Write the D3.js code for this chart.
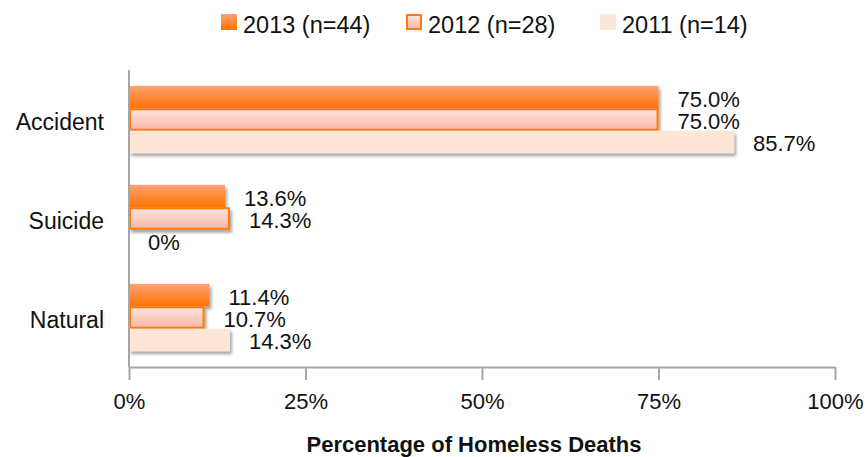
<!DOCTYPE html>
<html>
<head>
<meta charset="utf-8">
<script src="https://cdn.jsdelivr.net/npm/d3@7"></script>
<style>
  html, body { margin: 0; padding: 0; background: #ffffff; }
  svg { display: block; }
  text { font-family: "Liberation Sans", Arial, sans-serif; fill: #111; }
</style>
</head>
<body>
<svg id="chart" width="867" height="457"></svg>
<script>
// Causes of death, top to bottom
const categories = ["Accident", "Suicide", "Natural"];
// Series (year, sample size) in legend order
const seriesKeys = ["2013", "2012", "2011"];
const seriesLabels = ["2013 (n=44)", "2012 (n=28)", "2011 (n=14)"];
// Percentage of deaths per cause for each year
const values2013 = [75.0, 13.6, 11.4];
const values2012 = [75.0, 14.3, 10.7];
const values2011 = [85.7, 0.0, 14.3];
const valueLabels2013 = ["75.0%", "13.6%", "11.4%"];
const valueLabels2012 = ["75.0%", "14.3%", "10.7%"];
const valueLabels2011 = ["85.7%", "0%", "14.3%"];
// Axis ticks
const tickValues = [0, 25, 50, 75, 100];
const tickLabels = ["0%", "25%", "50%", "75%", "100%"];
const axisTitle = "Percentage of Homeless Deaths";

const seriesValues = { "2013": values2013, "2012": values2012, "2011": values2011 };
const seriesText = { "2013": valueLabels2013, "2012": valueLabels2012, "2011": valueLabels2011 };

const svg = d3.select("#chart");
const defs = svg.append("defs");

// Vertical gradients for the bar fills
function vGrad(id, top, bottom) {
  const g = defs.append("linearGradient").attr("id", id)
    .attr("x1", 0).attr("y1", 0).attr("x2", 0).attr("y2", 1);
  g.append("stop").attr("offset", "0%").attr("stop-color", top);
  g.append("stop").attr("offset", "100%").attr("stop-color", bottom);
}
vGrad("g2013", "#fea276", "#ff7300");
vGrad("g2012", "#fde4e0", "#fbb6a3");
vGrad("g2011", "#fde6d6", "#fde6d6");

const shadow = defs.append("filter").attr("id", "shadow")
  .attr("x", "-5%").attr("y", "-20%").attr("width", "115%").attr("height", "160%");
shadow.append("feDropShadow")
  .attr("dx", 2).attr("dy", 3).attr("stdDeviation", 1.6)
  .attr("flood-color", "#000").attr("flood-opacity", 0.35);

const style = {
  "2013": { fill: "url(#g2013)", stroke: "none", sw: 0 },
  "2012": { fill: "url(#g2012)", stroke: "#ff7a0a", sw: 2 },
  "2011": { fill: "url(#g2011)", stroke: "none", sw: 0 }
};

// Scales
const x = d3.scaleLinear().domain([0, 100]).range([129, 835]);
const y = d3.scaleBand().domain(categories).range([70, 367])
  .paddingInner(0.32).paddingOuter(0.16);
const ySub = d3.scaleBand().domain(seriesKeys).range([0, y.bandwidth()]);

// Bars
const groups = svg.append("g").selectAll("g.cat")
  .data(categories).join("g")
  .attr("class", "cat")
  .attr("transform", d => `translate(0,${y(d)})`);

seriesKeys.forEach(k => {
  const s = style[k];
  groups.append("rect")
    .attr("x", x(0) + s.sw / 2)
    .attr("y", (d) => ySub(k) + s.sw / 2)
    .attr("width", (d, i) => Math.max(0, x(seriesValues[k][i]) - x(0) - s.sw))
    .attr("height", ySub.bandwidth() - s.sw)
    .attr("fill", s.fill)
    .attr("stroke", s.stroke)
    .attr("stroke-width", s.sw)
    .attr("filter", (d, i) => seriesValues[k][i] > 0 ? "url(#shadow)" : null);
});

// Value labels
seriesKeys.forEach(k => {
  groups.append("text")
    .attr("x", (d, i) => x(seriesValues[k][i]) + 19)
    .attr("y", ySub(k) + ySub.bandwidth() / 2 + 9.5)
    .attr("font-size", 22)
    .text((d, i) => seriesText[k][i]);
});

// X axis
const xAxis = d3.axisBottom(x)
  .tickValues(tickValues)
  .tickFormat((d, i) => tickLabels[i])
  .tickSize(13)
  .tickSizeOuter(0)
  .tickPadding(12);
const gx = svg.append("g").attr("transform", "translate(0,367)").call(xAxis);
gx.select(".domain").attr("stroke", "#a6a6a6").attr("stroke-width", 2);
gx.selectAll(".tick line").attr("stroke", "#a6a6a6").attr("stroke-width", 2);
gx.selectAll(".tick text")
  .attr("font-family", "Liberation Sans, Arial, sans-serif")
  .attr("font-size", 22).attr("fill", "#111")
  .attr("dy", null).attr("y", 42);

// Y axis
const yAxis = d3.axisLeft(y).tickSize(0).tickSizeOuter(0).tickPadding(25);
const gy = svg.append("g").attr("transform", `translate(${x(0)},0)`).call(yAxis);
gy.select(".domain").attr("stroke", "#a6a6a6").attr("stroke-width", 2)
  .attr("d", "M0,70V367");
gy.selectAll(".tick text")
  .attr("font-family", "Liberation Sans, Arial, sans-serif")
  .attr("font-size", 23).attr("fill", "#111")
  .attr("dy", null).attr("y", 10);

// Axis title
svg.append("text")
  .attr("x", (x(0) + x(100)) / 2 - 8)
  .attr("y", 452)
  .attr("text-anchor", "middle")
  .attr("font-size", 22)
  .attr("font-weight", "bold")
  .text(axisTitle);

// Legend
const legendX = [221, 406, 600];
const legend = svg.append("g").selectAll("g")
  .data(seriesKeys).join("g")
  .attr("transform", (d, i) => `translate(${legendX[i]},0)`);
legend.append("rect")
  .attr("x", d => style[d].sw / 2)
  .attr("y", d => 14 + style[d].sw / 2)
  .attr("width", d => 16 - style[d].sw)
  .attr("height", d => 16 - style[d].sw)
  .attr("fill", d => style[d].fill)
  .attr("stroke", d => style[d].stroke)
  .attr("stroke-width", d => style[d].sw);
legend.append("text")
  .attr("x", 22)
  .attr("y", 33)
  .attr("font-size", 23.5)
  .text((d, i) => seriesLabels[i]);
</script>
</body>
</html>
